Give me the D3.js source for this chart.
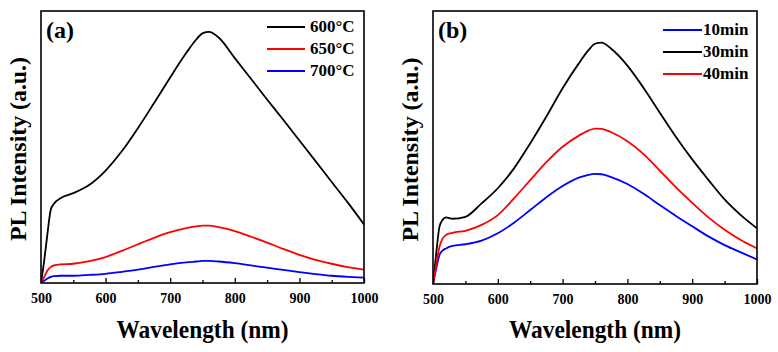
<!DOCTYPE html>
<html lang="en">
<head>
  <meta charset="UTF-8" />
  <title>PL spectra</title>
  <script src="https://cdn.jsdelivr.net/npm/d3@7/dist/d3.min.js"></script>
  <style>
    body { margin: 0; background: #fff; }
    svg text { font-family: "Liberation Serif", "Times New Roman", serif; font-weight: bold; fill: #000; }
    .curve { fill: none; stroke-width: 1.8; }
  </style>
</head>
<body>
  <div id="chart"></div>
  <script>
    // wavelength grid (nm), shared by all curves
    var wavelength = [500, 505, 510, 515, 520, 530, 550, 575, 600, 625, 650, 675, 700, 725, 740, 750, 760, 775, 800, 825, 850, 875, 900, 925, 950, 975, 1000];
    var xTicks = [500, 600, 700, 800, 900, 1000];

    // panel (a): annealing temperature
    var labelsA = ["600°C", "650°C", "700°C"];
    var colorsA = ["#000000", "#ff0000", "#0000ff"];
    var t600 = [0, 81, 177, 262, 284, 304, 322, 352, 403, 472, 555, 645, 737, 825, 872, 895, 900, 880, 806, 732, 658, 585, 511, 437, 362, 288, 210];
    var t650 = [0, 22, 45, 57, 63, 67, 69, 78, 93, 115, 139, 162, 182, 197, 203, 206, 206, 200, 186, 166, 145, 122, 101, 83, 69, 57, 48];
    var t700 = [0, 8, 16, 22, 25, 26, 26, 29, 33, 40, 48, 58, 67, 74, 77, 79, 79, 77, 71, 63, 55, 47, 39, 32, 26, 22, 19];

    // panel (b): annealing time
    var labelsB = ["10min", "30min", "40min"];
    var colorsB = ["#0000ff", "#000000", "#ff0000"];
    var m10 = [0, 55, 104, 120, 127, 136, 142, 155, 181, 219, 264, 310, 350, 380, 390, 393, 392, 382, 357, 322, 282, 243, 206, 170, 139, 113, 88];
    var m30 = [0, 110, 205, 230, 238, 233, 240, 288, 342, 413, 502, 598, 699, 788, 835, 858, 862, 840, 780, 700, 612, 525, 445, 372, 302, 246, 199];
    var m40 = [0, 70, 133, 163, 175, 183, 190, 211, 246, 306, 371, 435, 490, 530, 548, 555, 554, 542, 510, 464, 405, 345, 290, 238, 194, 157, 127];

    var W = 778, H = 352;
    var svg = d3.select("#chart").append("svg")
      .attr("width", W)
      .attr("height", H);

    var panels = [
      { tag: "(a)", left: 41, right: 364, top: 11, bottom: 283, series: [t600, t650, t700], labels: labelsA, colors: colorsA,
        legX: 267, legY: 27, legLen: 38, legGap: 5 },
      { tag: "(b)", left: 433, right: 757, top: 11, bottom: 284, series: [m10, m30, m40], labels: labelsB, colors: colorsB,
        legX: 663, legY: 30, legLen: 39, legGap: 1 }
    ];

    panels.forEach(function(p) {
      var g = svg.append("g");

      var x = d3.scaleLinear().domain([500, 1000]).range([p.left, p.right]);
      var y = d3.scaleLinear().domain([0, 975]).range([p.bottom, p.top]);

      // clip curves to plot box
      var clipId = "clip" + p.tag.replace(/\W/g, "");
      svg.append("clipPath").attr("id", clipId)
        .append("rect")
        .attr("x", p.left).attr("y", p.top)
        .attr("width", p.right - p.left).attr("height", p.bottom - p.top);

      var line = d3.line()
        .x(function(d, i) { return x(wavelength[i]); })
        .y(function(d) { return y(d); })
        .curve(d3.curveMonotoneX);

      g.append("g").attr("clip-path", "url(#" + clipId + ")")
        .selectAll("path")
        .data(p.series)
        .enter()
        .append("path")
        .attr("class", "curve")
        .attr("stroke", function(d, i) { return p.colors[i]; })
        .attr("d", line);

      // bottom axis: inward ticks, minor every 50
      var minor = d3.axisBottom(x).tickValues(d3.range(550, 1000, 100)).tickSize(-3).tickFormat("");
      g.append("g")
        .attr("transform", "translate(0," + p.bottom + ")")
        .call(minor)
        .call(function(a) { a.select(".domain").remove(); a.selectAll("line").attr("stroke-width", 1.3); });

      var major = d3.axisBottom(x).tickValues(xTicks).tickSize(-5).tickPadding(10).tickFormat(d3.format("d"));
      g.append("g")
        .attr("transform", "translate(0," + p.bottom + ")")
        .call(major)
        .call(function(a) {
          a.select(".domain").remove();
          a.selectAll("line").attr("stroke-width", 1.3);
          a.selectAll("text").attr("font-size", 14);
        });

      // frame
      g.append("rect")
        .attr("x", p.left).attr("y", p.top)
        .attr("width", p.right - p.left).attr("height", p.bottom - p.top)
        .attr("fill", "none")
        .attr("stroke", "#000")
        .attr("stroke-width", 1.6);

      // panel tag
      g.append("text")
        .attr("x", p.left + 5)
        .attr("y", 38)
        .attr("font-size", 24)
        .text(p.tag);

      // axis titles (original is a bit taller than wide, so squeeze to its width)
      g.append("text")
        .attr("x", (p.left + p.right) / 2)
        .attr("y", 338)
        .attr("text-anchor", "middle")
        .attr("font-size", 25)
        .attr("textLength", 172)
        .attr("lengthAdjust", "spacingAndGlyphs")
        .text("Wavelength (nm)");

      g.append("text")
        .attr("transform", "translate(" + (p.left - 15) + "," + ((p.top + p.bottom) / 2 + 2) + ") rotate(-90)")
        .attr("text-anchor", "middle")
        .attr("font-size", 24)
        .attr("textLength", 184)
        .attr("lengthAdjust", "spacingAndGlyphs")
        .text("PL Intensity (a.u.)");

      // legend
      var leg = g.append("g");
      leg.selectAll("line")
        .data(p.labels)
        .enter()
        .append("line")
        .attr("x1", p.legX)
        .attr("x2", p.legX + p.legLen)
        .attr("y1", function(d, i) { return p.legY + i * 22; })
        .attr("y2", function(d, i) { return p.legY + i * 22; })
        .attr("stroke", function(d, i) { return p.colors[i]; })
        .attr("stroke-width", 2);
      leg.selectAll("text")
        .data(p.labels)
        .enter()
        .append("text")
        .attr("x", p.legX + p.legLen + p.legGap)
        .attr("y", function(d, i) { return p.legY + i * 22 + 5; })
        .attr("font-size", 17)
        .text(function(d) { return d; });
    });
  </script>
</body>
</html>
